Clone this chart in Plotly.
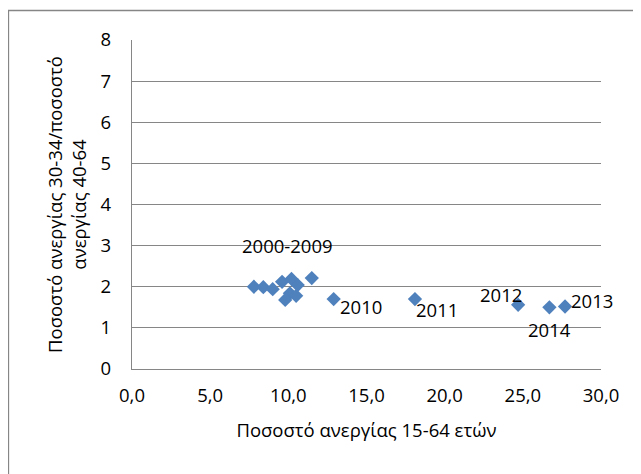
import plotly.graph_objects as go

# Data
x_all = [7.8, 8.4, 9.0, 9.6, 10.2, 10.6, 10.1, 9.8, 10.5, 11.5,
         12.9, 18.1, 24.7, 27.7, 26.7]
y_all = [2.00, 1.99, 1.94, 2.12, 2.19, 2.04, 1.84, 1.68, 1.78, 2.21,
         1.70, 1.70, 1.56, 1.52, 1.50]

label_texts = ["2000-2009", "2010", "2011", "2012", "2013", "2014"]
label_x = [9.92, 14.62, 19.48, 23.6, 29.4, 26.68]
label_y = [3.0, 1.52, 1.44, 1.80, 1.66, 0.95]

x_title = "Ποσοστό ανεργίας 15-64 ετών"
y_title = "Ποσοστό ανεργίας 30-34/ποσοστό<br>ανεργίας 40-64"

FONT = "Open Sans"
FS = 18.5
GRID = "#868686"

fig = go.Figure()
fig.add_trace(go.Scatter(
    x=x_all, y=y_all, mode="markers",
    marker=dict(symbol="diamond", size=11, color="#4F81BD", line=dict(width=0)),
    showlegend=False, hoverinfo="x+y",
))

for t, lx, ly in zip(label_texts, label_x, label_y):
    fig.add_annotation(x=lx, y=ly, xref="x", yref="y", text=t, showarrow=False,
                       font=dict(family=FONT, size=FS, color="black"),
                       xanchor="center", yanchor="middle")

# outer chart-area frame (page body has an 8px margin)
W, H = 641, 474
L, T, R, B = 124, 32, 48, 113
pw, ph = W - L - R, H - T - B
fig.add_shape(type="rect", xref="paper", yref="paper",
              x0=(0.5 - L) / pw, x1=2.0, y0=-1.0, y1=1 + (T - 2.5) / ph,
              line=dict(color=GRID, width=1.3), fillcolor="rgba(0,0,0,0)",
              layer="below")

fig.update_layout(
    width=W, height=H,
    margin=dict(l=L, r=R, t=T, b=B),
    paper_bgcolor="white", plot_bgcolor="white",
    separators=",.",
    font=dict(family=FONT, size=FS, color="black"),
    xaxis=dict(range=[0, 30], tickvals=[0, 5, 10, 15, 20, 25, 30], tickformat=".1f",
               showgrid=False, zeroline=False, showline=True, linecolor=GRID, linewidth=1.3,
               ticks="", ticklabelstandoff=10,
               title=dict(text=x_title, standoff=17, font=dict(family=FONT, size=FS))),
    yaxis=dict(range=[0, 8], tickvals=list(range(0, 9)), tickformat="d",
               showgrid=True, gridcolor=GRID, gridwidth=1.3, zeroline=False,
               showline=True, linecolor=GRID, linewidth=1.3,
               ticks="", ticklabelstandoff=16,
               title=dict(text=y_title, standoff=9, font=dict(family=FONT, size=FS))),
)

fig.write_html("out.html")
